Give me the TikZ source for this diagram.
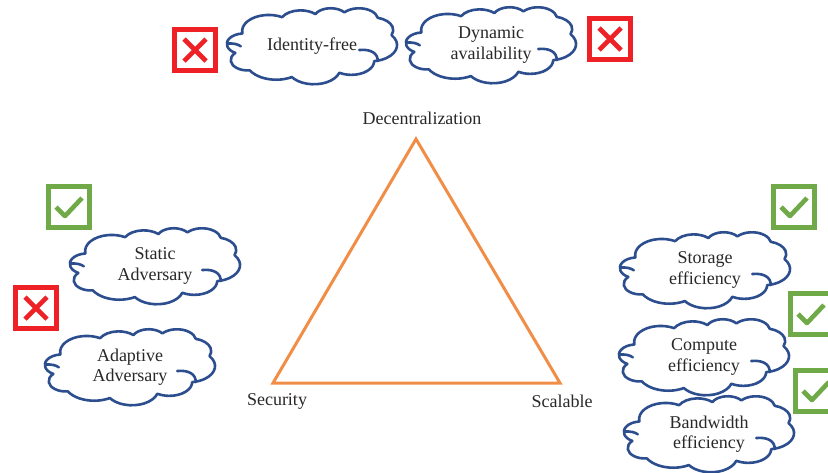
\documentclass[tikz,border=0pt]{standalone}
\usepackage{fontspec}
\setmainfont{Liberation Serif}
\definecolor{tri}{RGB}{240,142,72}
\definecolor{cloudblue}{RGB}{44,78,142}
\definecolor{nored}{RGB}{238,34,38}
\definecolor{okgreen}{RGB}{112,170,72}
\definecolor{ink}{RGB}{40,40,40}
% one elliptical arc of the cloud outline, angles measured as seen from the centre
\newcommand\lobe[4]{arc[x radius=#1, y radius=#2, start angle={garc(#1,#2,#3)},
  delta angle={mod(garc(#1,#2,#3+#4)-garc(#1,#2,#3)+720,360)}]}
% cloud outline in a 43.2 x 43.2 box, origin top left, y pointing down
\newcommand\cloudpath{(3.9,14.37)
  \lobe{6.753}{9.19}{-190.4875}{123.7805}
  \lobe{5.333}{7.267}{-144.1024}{89.9452}
  \lobe{4.365}{5.945}{-145.8079}{99.7230}
  \lobe{4.857}{6.595}{-130.9861}{117.2417}
  \lobe{5.333}{7.273}{-78.7089}{109.0269}
  \lobe{6.775}{9.22}{-46.2673}{130.2690}
  \lobe{5.785}{7.867}{0.6250}{114.0333}
  \lobe{6.752}{9.215}{22.4516}{115.1726}
  \lobe{7.72}{10.543}{66.2426}{75.7110}
  \lobe{4.36}{5.918}{-274.9421}{146.7356}
  \lobe{4.345}{5.945}{-246.8285}{152.5189} -- cycle}
% cloud with its label: name, centre x, centre y, text
\newcommand\puff[4]{%
  \begin{scope}[shift={(#2-85,#3-38)}, x=3.935pt, y=-1.759pt]
    \draw[cloudline, fill=white] \cloudpath;
    \draw[cloudline] (0.3,20.2) .. controls (1.6,20.0) and (2.9,20.6) .. (3.5,21.8);
    \draw[cloudline] (33.6,23.9) .. controls (36.4,23.2) and (38.4,25.6) .. (38.3,30.2);
  \end{scope}
  \node[idea] (#1) at (#2,#3) {#4};}
\begin{document}
\begin{tikzpicture}[x=1pt,y=-1pt,
  declare function={garc(\w,\h,\a)=atan2(\w*sin(\a),\h*cos(\a));},
  cloudline/.style={draw=cloudblue, line width=2.6pt, line join=round, line cap=round},
  idea/.style={align=center, inner sep=0pt, font=\fontsize{18}{20.5}\selectfont, text=ink},
  corner/.style={font=\fontsize{18}{20}\selectfont, text=ink},
  markbox/.style={draw, line width=4.5pt, minimum size=41pt, inner sep=0pt, fill=white},
  nobox/.style={markbox, draw=nored,
    path picture={\draw[nored, line width=4.6pt]
      ([shift={(-11,-11)}]path picture bounding box.center) -- ([shift={(11,11)}]path picture bounding box.center)
      ([shift={(-11,11)}]path picture bounding box.center) -- ([shift={(11,-11)}]path picture bounding box.center);}},
  okbox/.style={markbox, draw=okgreen,
    path picture={\draw[okgreen, line width=4.6pt, line join=round]
      ([shift={(-13,0)}]path picture bounding box.center) -- ([shift={(-4,9)}]path picture bounding box.center)
      -- ([shift={(13,-9)}]path picture bounding box.center);}}
]
\useasboundingbox (0,0) rectangle (828,472);
\clip (0,0) rectangle (828,472);

% the trilemma triangle
\coordinate (top) at (416,139);
\coordinate (left) at (273,383);
\coordinate (right) at (560,383);
\draw[tri, line width=3pt, line join=miter] (top) -- (left) -- (right) -- cycle;
\node[corner] (dec) at (422,118) {Decentralization};
\node[corner] (sec) at (277,401) {Security};
\node[corner] (sca) at (562,401) {Scalable};

% decentralization properties
\puff{idf}{312}{46}{Identity-free}
\puff{dyn}{491}{45}{Dynamic\\availability}
\node[nobox] (m1) at (195,50) {};
\node[nobox] (m2) at (610,39) {};

% security properties
\puff{sta}{155}{266}{Static\\Adversary}
\puff{ada}{130}{367}{Adaptive\\Adversary}
\node[okbox] (m3) at (69,207) {};
\node[nobox] (m4) at (36,308) {};

% scalability properties
\puff{sto}{705}{270}{Storage\\efficiency}
\puff{com}{704}{357}{Compute\\efficiency}
\puff{ban}{709}{434}{Bandwidth\\efficiency}
\node[okbox] (m5) at (794,207) {};
\node[okbox] (m6) at (811,314) {};
\node[okbox] (m7) at (816,391) {};
\end{tikzpicture}
\end{document}
